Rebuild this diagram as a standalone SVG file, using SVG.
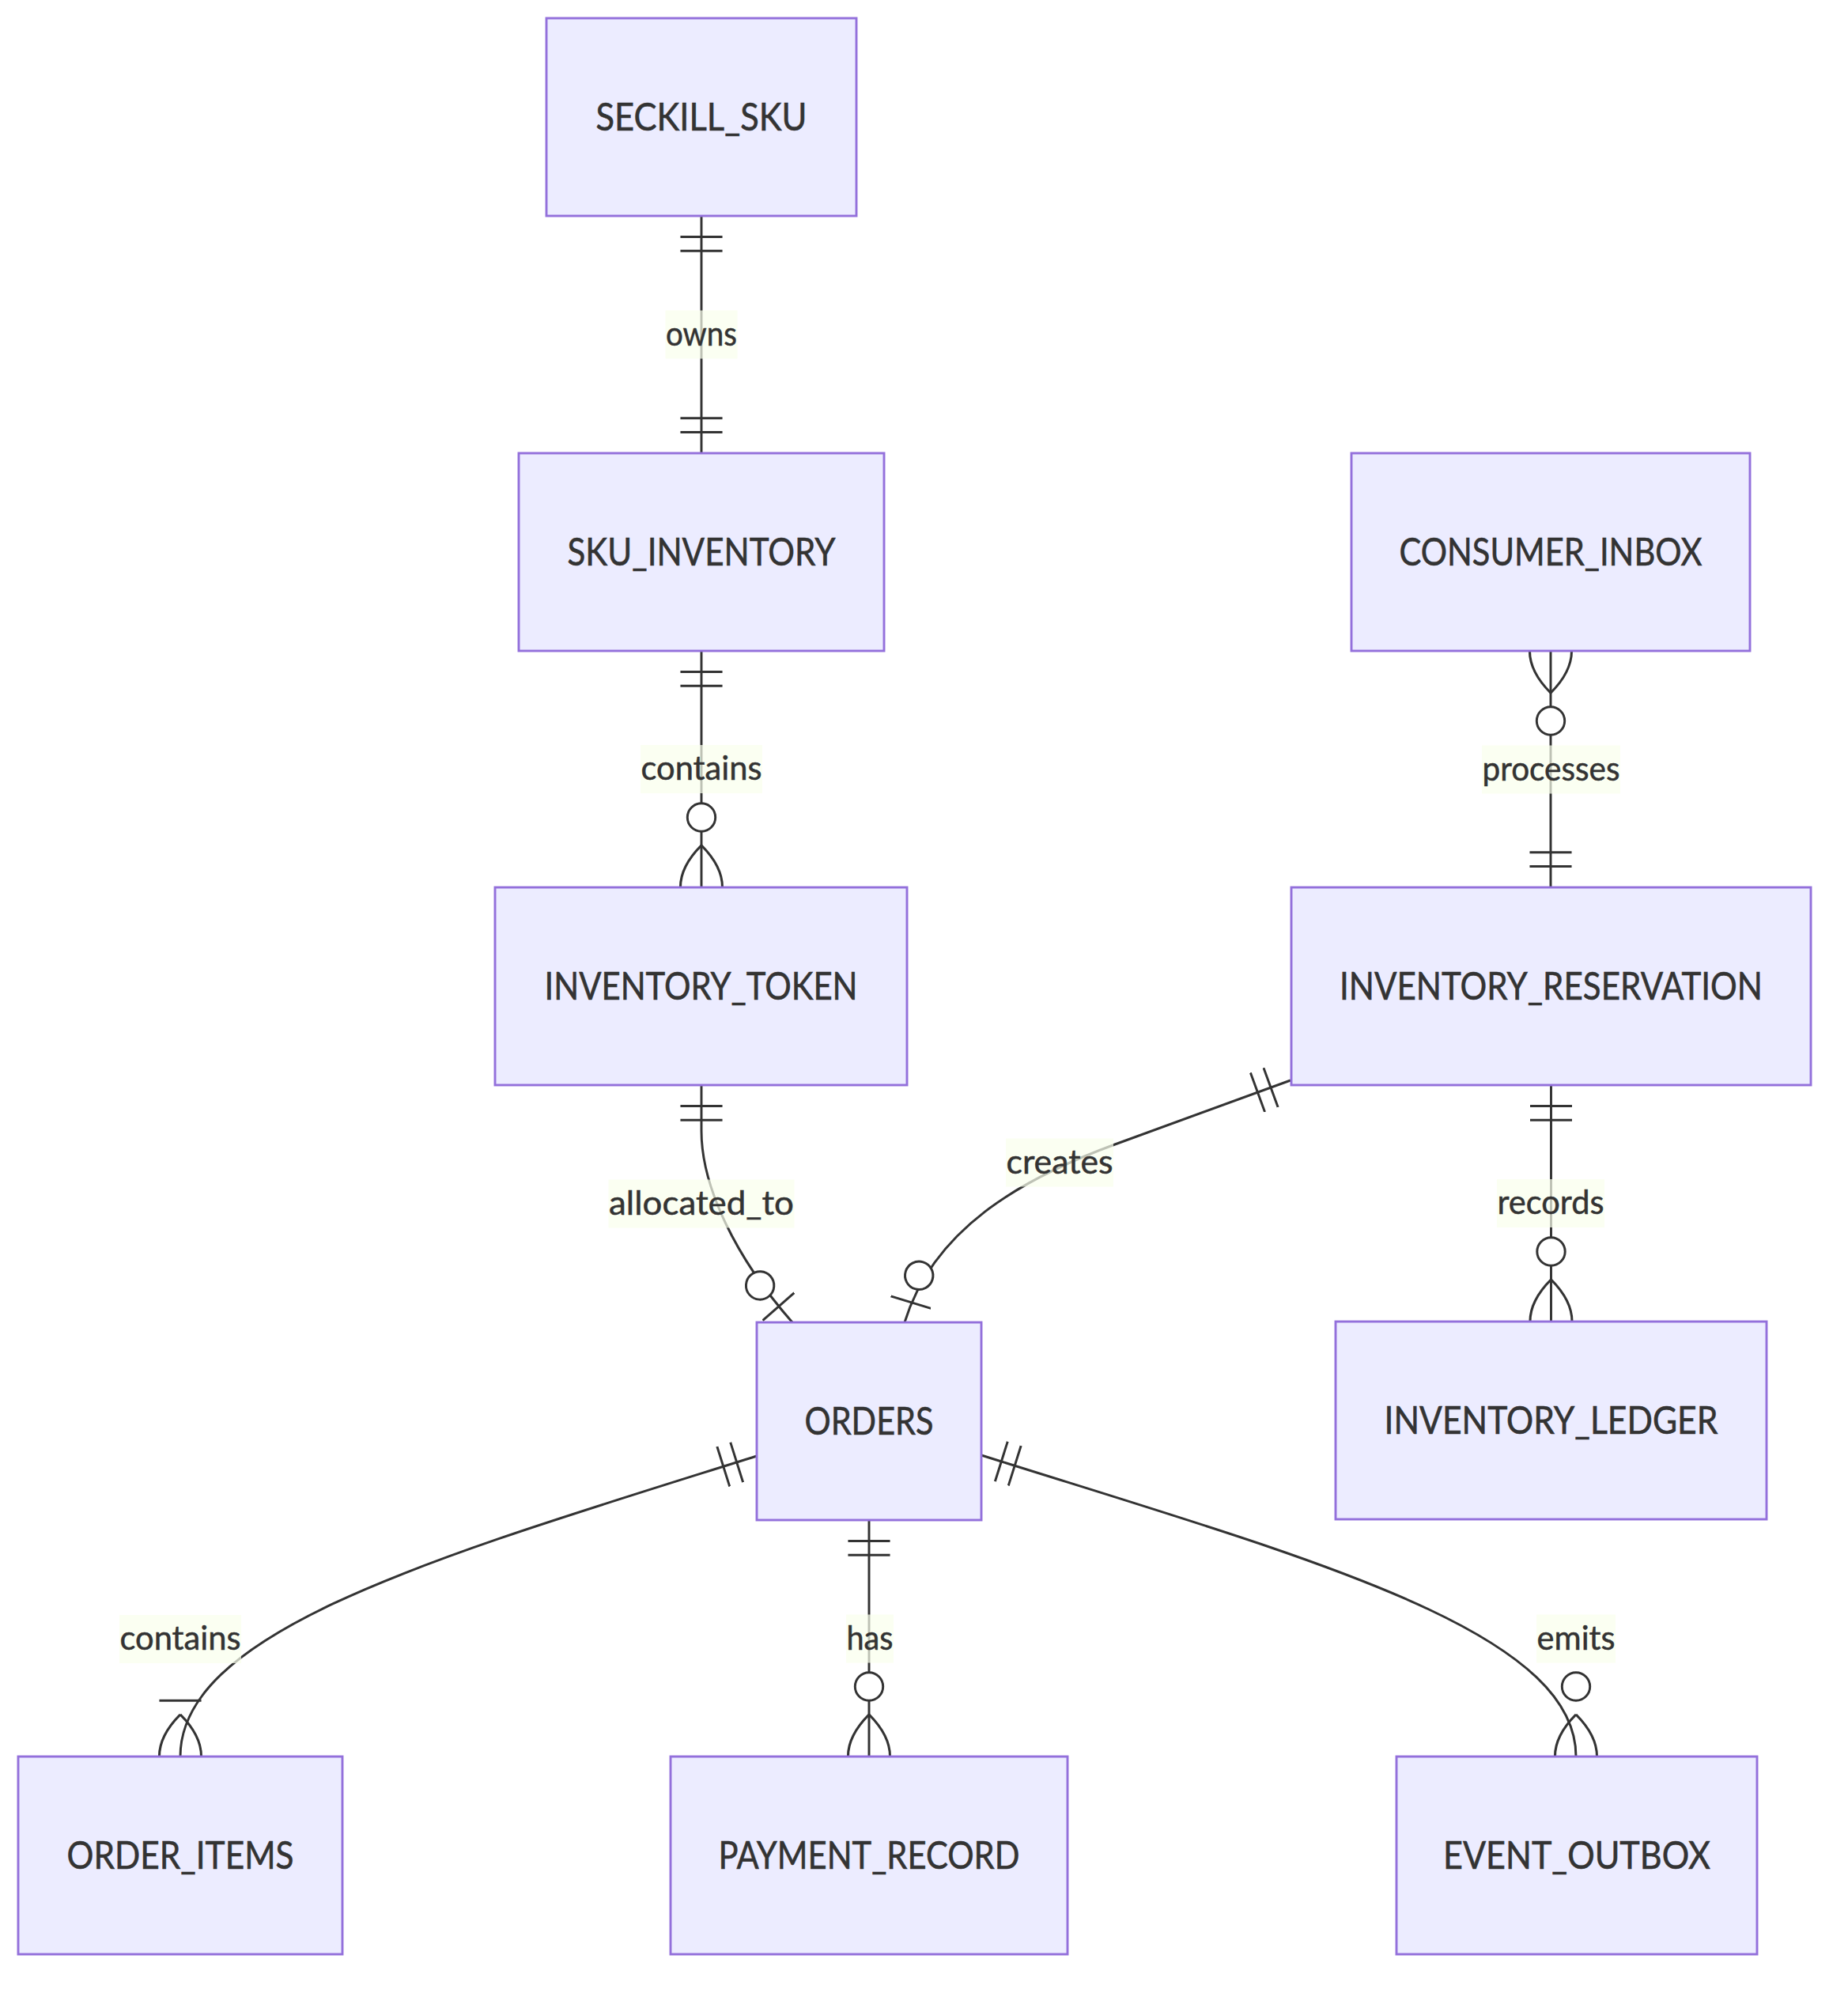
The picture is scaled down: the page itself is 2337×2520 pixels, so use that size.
<svg xmlns="http://www.w3.org/2000/svg" width="2337" height="2520" viewBox="0 0 2337 2520">
<style>
.ent rect{fill:#ECECFF;stroke:#9370DB;stroke-width:2.9}
.ent text{font-family:Lato,"Liberation Sans",sans-serif;font-size:48px;fill:#333333;stroke:#333333;stroke-width:0.6;text-anchor:middle}
.rel{fill:none;stroke:#333333;stroke-width:2.95}
.lbg{fill:#f9ffec;opacity:0.7}
.lbl{font-family:Lato,"Liberation Sans",sans-serif;font-size:42px;fill:#333333;stroke:#333333;stroke-width:0.5;text-anchor:middle}
.mk{stroke:#333333;fill:none}
.mkc{stroke:#333333;fill:#ffffff}
</style>
<defs>
<marker id="oneStart" refX="0" refY="9" markerWidth="18" markerHeight="18" orient="auto"><path class="mk" d="M9,0 L9,18 M15,0 L15,18"/></marker>
<marker id="oneEnd" refX="18" refY="9" markerWidth="18" markerHeight="18" orient="auto"><path class="mk" d="M3,0 L3,18 M9,0 L9,18"/></marker>
<marker id="zeroOneEnd" refX="30" refY="9" markerWidth="30" markerHeight="18" orient="auto"><circle class="mkc" cx="9" cy="9" r="6"/><path class="mk" d="M21,0 L21,18"/></marker>
<marker id="oneMoreEnd" refX="27" refY="18" markerWidth="45" markerHeight="36" orient="auto"><path class="mk" d="M3,9 L3,27 M9,18 Q27,0 45,18 Q27,36 9,18"/></marker>
<marker id="zeroMoreStart" refX="18" refY="18" markerWidth="57" markerHeight="36" orient="auto"><circle class="mkc" cx="48" cy="18" r="6"/><path class="mk" d="M0,18 Q18,0 36,18 Q18,36 0,18"/></marker>
<marker id="zeroMoreEnd" refX="39" refY="18" markerWidth="57" markerHeight="36" orient="auto"><circle class="mkc" cx="9" cy="18" r="6"/><path class="mk" d="M21,18 Q39,0 57,18 Q39,36 21,18"/></marker>
</defs>
<rect x="0" y="0" width="2337" height="2520" fill="#ffffff"/>
<g id="connectors">
<path id="e-owns" class="rel" d="M887,273 L887,573" marker-start="url(#oneStart)" marker-end="url(#oneEnd)"/>
<path id="e-contains1" class="rel" d="M887,823 L887,1122" marker-start="url(#oneStart)" marker-end="url(#zeroMoreEnd)"/>
<path id="e-processes" class="rel" d="M1961,823 L1961,1122" marker-start="url(#zeroMoreStart)" marker-end="url(#oneEnd)"/>
<path id="e-allocated" class="rel" d="M887,1372 L887,1430 C887,1500 930,1590 1002,1672" marker-start="url(#oneStart)" marker-end="url(#zeroOneEnd)"/>
<path id="e-creates" class="rel" d="M1632,1366 L1410,1447 C1290,1491 1180,1555 1144,1672" marker-start="url(#oneStart)" marker-end="url(#zeroOneEnd)"/>
<path id="e-records" class="rel" d="M1961.5,1372 L1961.5,1671" marker-start="url(#oneStart)" marker-end="url(#zeroMoreEnd)"/>
<path id="e-contains2" class="rel" d="M957,1841 C560,1966 228,2060 228,2221" marker-start="url(#oneStart)" marker-end="url(#oneMoreEnd)"/>
<path id="e-has" class="rel" d="M1099,1922 L1099,2221" marker-start="url(#oneStart)" marker-end="url(#zeroMoreEnd)"/>
<path id="e-emits" class="rel" d="M1241,1840 C1650,1969 1993,2060 1993,2221" marker-start="url(#oneStart)" marker-end="url(#zeroMoreEnd)"/>
<rect class="lbg" x="841.5" y="392.5" width="91" height="61"/>
<text class="lbl" x="887" y="437" textLength="90" lengthAdjust="spacingAndGlyphs">owns</text>
<rect class="lbg" x="810" y="942" width="154" height="61"/>
<text class="lbl" x="887" y="986" textLength="153" lengthAdjust="spacingAndGlyphs">contains</text>
<rect class="lbg" x="1874" y="942.5" width="175" height="61"/>
<text class="lbl" x="1961.5" y="986.5" textLength="174" lengthAdjust="spacingAndGlyphs">processes</text>
<rect class="lbg" x="769.5" y="1491.5" width="235" height="61"/>
<text class="lbl" x="887" y="1535.5" textLength="234" lengthAdjust="spacingAndGlyphs">allocated_to</text>
<rect class="lbg" x="1272" y="1439.5" width="136" height="61"/>
<text class="lbl" x="1340" y="1483.5" textLength="135" lengthAdjust="spacingAndGlyphs">creates</text>
<rect class="lbg" x="1893" y="1491" width="136" height="61"/>
<text class="lbl" x="1961" y="1535" textLength="135" lengthAdjust="spacingAndGlyphs">records</text>
<rect class="lbg" x="151" y="2042" width="154" height="61"/>
<text class="lbl" x="228" y="2086" textLength="153" lengthAdjust="spacingAndGlyphs">contains</text>
<rect class="lbg" x="1070" y="2041.5" width="60" height="61"/>
<text class="lbl" x="1100" y="2085.5" textLength="59" lengthAdjust="spacingAndGlyphs">has</text>
<rect class="lbg" x="1943" y="2041.5" width="100" height="61"/>
<text class="lbl" x="1993" y="2085.5" textLength="99" lengthAdjust="spacingAndGlyphs">emits</text>
</g>
<g id="SECKILL_SKU" class="ent"><rect x="691" y="23" width="392" height="250"/><text x="887" y="165" textLength="267" lengthAdjust="spacingAndGlyphs">SECKILL_SKU</text></g>
<g id="SKU_INVENTORY" class="ent"><rect x="656" y="573" width="462" height="250"/><text x="887" y="715" textLength="339" lengthAdjust="spacingAndGlyphs">SKU_INVENTORY</text></g>
<g id="INVENTORY_TOKEN" class="ent"><rect x="626" y="1122" width="521" height="250"/><text x="886.5" y="1264" textLength="396" lengthAdjust="spacingAndGlyphs">INVENTORY_TOKEN</text></g>
<g id="CONSUMER_INBOX" class="ent"><rect x="1709" y="573" width="504" height="250"/><text x="1961" y="715" textLength="383" lengthAdjust="spacingAndGlyphs">CONSUMER_INBOX</text></g>
<g id="INVENTORY_RESERVATION" class="ent"><rect x="1633" y="1122" width="657" height="250"/><text x="1961.5" y="1264" textLength="535" lengthAdjust="spacingAndGlyphs">INVENTORY_RESERVATION</text></g>
<g id="ORDERS" class="ent"><rect x="957" y="1672" width="284" height="250"/><text x="1099" y="1814" textLength="163" lengthAdjust="spacingAndGlyphs">ORDERS</text></g>
<g id="INVENTORY_LEDGER" class="ent"><rect x="1689" y="1671" width="545" height="250"/><text x="1961.5" y="1813" textLength="422" lengthAdjust="spacingAndGlyphs">INVENTORY_LEDGER</text></g>
<g id="ORDER_ITEMS" class="ent"><rect x="23" y="2221" width="410" height="250"/><text x="228" y="2363" textLength="287" lengthAdjust="spacingAndGlyphs">ORDER_ITEMS</text></g>
<g id="PAYMENT_RECORD" class="ent"><rect x="848" y="2221" width="502" height="250"/><text x="1099" y="2363" textLength="381" lengthAdjust="spacingAndGlyphs">PAYMENT_RECORD</text></g>
<g id="EVENT_OUTBOX" class="ent"><rect x="1766" y="2221" width="456" height="250"/><text x="1994" y="2363" textLength="338" lengthAdjust="spacingAndGlyphs">EVENT_OUTBOX</text></g>
</svg>
